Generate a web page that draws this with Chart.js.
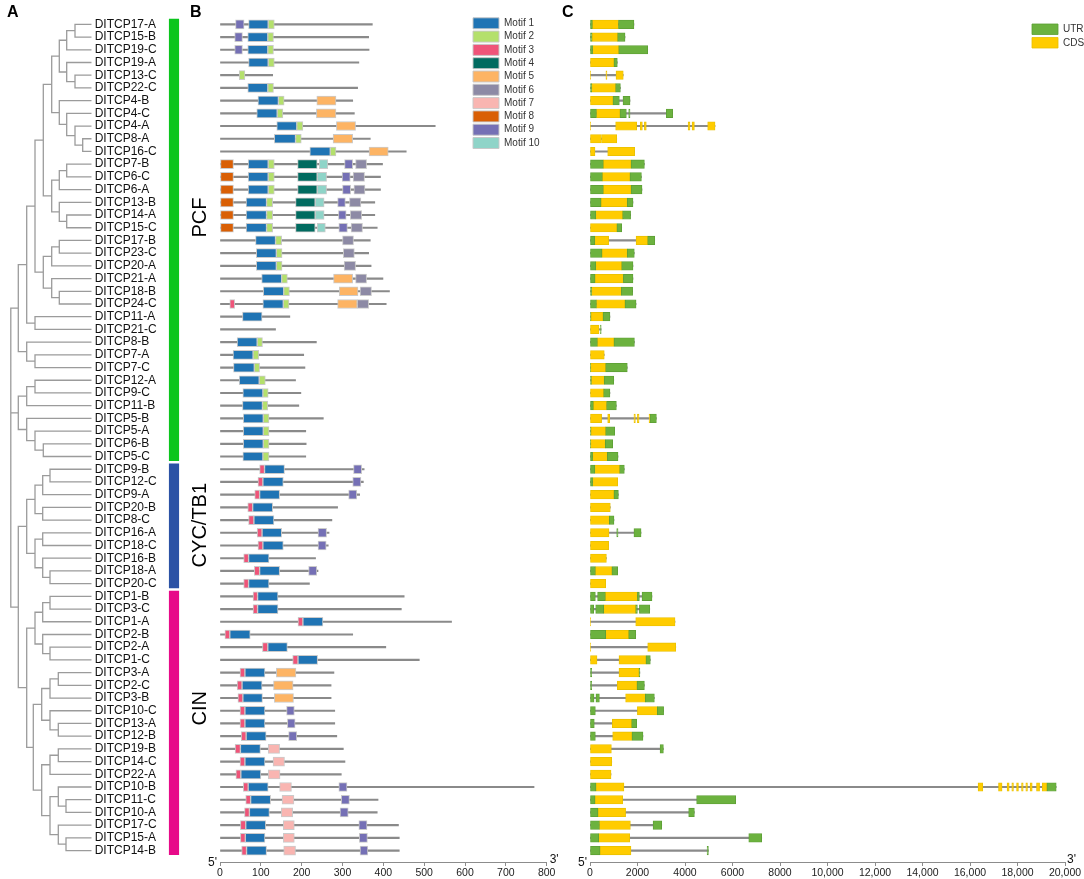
<!DOCTYPE html>
<html><head><meta charset="utf-8"><title>TCP genes</title>
<script src="https://cdn.jsdelivr.net/npm/chart.js@4.4.1/dist/chart.umd.min.js"></script>
<style>
html,body{margin:0;padding:0;background:#fff;}
body{width:1084px;height:879px;position:relative;overflow:hidden;}
canvas{position:absolute;top:0;}
.panel{position:absolute;font:bold 16px/16px "Liberation Sans",Arial,sans-serif;color:#000;}
</style></head>
<body>
<canvas id="cA" width="168" height="879" style="left:0"></canvas>
<canvas id="cG" width="52" height="879" style="left:161px"></canvas>
<canvas id="cB" width="360" height="879" style="left:200px"></canvas>
<canvas id="cC" width="514" height="879" style="left:570px"></canvas>
<div class="panel" style="left:7px;top:4px">A</div>
<div class="panel" style="left:190px;top:4px">B</div>
<div class="panel" style="left:562px;top:4px">C</div>
<script>
// ---------------- DATA ----------------
const genes = ['DITCP17-A','DITCP15-B','DITCP19-C','DITCP19-A','DITCP13-C','DITCP22-C','DITCP4-B','DITCP4-C','DITCP4-A','DITCP8-A','DITCP16-C',
'DITCP7-B','DITCP6-C','DITCP6-A','DITCP13-B','DITCP14-A','DITCP15-C','DITCP17-B','DITCP23-C','DITCP20-A','DITCP21-A','DITCP18-B','DITCP24-C',
'DITCP11-A','DITCP21-C','DITCP8-B','DITCP7-A','DITCP7-C','DITCP12-A','DITCP9-C','DITCP11-B','DITCP5-B','DITCP5-A','DITCP6-B','DITCP5-C',
'DITCP9-B','DITCP12-C','DITCP9-A','DITCP20-B','DITCP8-C','DITCP16-A','DITCP18-C','DITCP16-B','DITCP18-A','DITCP20-C',
'DITCP1-B','DITCP3-C','DITCP1-A','DITCP2-B','DITCP2-A','DITCP1-C','DITCP3-A','DITCP2-C','DITCP3-B','DITCP10-C','DITCP13-A','DITCP12-B',
'DITCP19-B','DITCP14-C','DITCP22-A','DITCP10-B','DITCP11-C','DITCP10-A','DITCP17-C','DITCP15-A','DITCP14-B'];

// protein length (aa)
const proteinLength = [373,364,365,340,129,337,325,329,527,368,456,
398,393,393,379,379,385,368,364,370,399,415,407,
171,136,236,205,208,185,198,193,253,210,211,210,
353,351,342,288,274,267,265,234,240,219,
451,444,567,325,406,488,279,272,272,281,281,286,302,306,297,769,387,385,437,439,439];

// motif hits per protein: [motif number, start aa, end aa]
const motifHits = [
[[9,38,59],[1,70,118],[2,118,133]],
[[9,36,55],[1,68,117],[2,117,131]],
[[9,36,55],[1,68,117],[2,117,131]],
[[1,70,118],[2,118,133]],
[[2,47,61]],
[[1,68,117],[2,117,131]],
[[1,93,143],[2,143,157],[5,237,284]],
[[1,90,140],[2,140,154],[5,236,284]],
[[1,139,188],[2,188,203],[5,285,332]],
[[1,133,185],[2,185,199],[5,277,325]],
[[1,220,270],[2,270,284],[5,365,412]],
[[8,0,33],[1,69,118],[2,118,133],[4,190,238],[10,243,264],[9,305,325],[6,332,359]],
[[8,0,33],[1,69,118],[2,118,133],[4,190,238],[10,238,261],[9,299,319],[6,326,354]],
[[8,0,33],[1,69,118],[2,118,133],[4,190,238],[10,238,261],[9,300,320],[6,328,355]],
[[8,0,33],[1,64,114],[2,114,129],[4,185,233],[10,233,255],[9,288,307],[6,317,345]],
[[8,0,33],[1,64,114],[2,114,129],[4,185,233],[10,233,255],[9,290,309],[6,319,347]],
[[8,0,33],[1,64,114],[2,114,129],[4,185,233],[10,238,258],[9,291,312],[6,321,349]],
[[1,87,136],[2,136,151],[6,300,327]],
[[1,89,138],[2,138,152],[6,302,329]],
[[1,89,138],[2,138,152],[6,304,332]],
[[1,102,151],[2,151,165],[5,278,325],[6,332,359]],
[[1,106,156],[2,156,170],[5,292,338],[6,343,371]],
[[3,24,36],[1,105,155],[2,155,169],[5,288,336],[6,336,364]],
[[1,55,103]],
[],
[[1,42,91],[2,91,104]],
[[1,32,81],[2,81,95]],
[[1,33,84],[2,84,97]],
[[1,47,96],[2,96,111]],
[[1,56,105],[2,105,118]],
[[1,55,104],[2,104,117]],
[[1,57,106],[2,106,120]],
[[1,57,106],[2,106,120]],
[[1,57,106],[2,106,120]],
[[1,56,105],[2,105,120]],
[[3,97,109],[1,109,158],[9,327,347]],
[[3,93,105],[1,105,155],[9,325,345]],
[[3,85,97],[1,97,146],[9,315,335]],
[[3,68,80],[1,80,129]],
[[3,70,83],[1,83,132]],
[[3,91,103],[1,103,151],[9,240,261]],
[[3,93,105],[1,105,155],[9,240,260]],
[[3,58,70],[1,70,120]],
[[3,84,97],[1,97,146],[9,217,237]],
[[3,58,70],[1,70,120]],
[[3,81,92],[1,92,142]],
[[3,81,92],[1,92,142]],
[[3,191,203],[1,203,252]],
[[3,12,24],[1,24,74]],
[[3,104,117],[1,117,165]],
[[3,178,191],[1,191,239]],
[[3,49,61],[1,61,110],[5,138,186]],
[[3,42,54],[1,54,103],[5,131,179]],
[[3,44,56],[1,56,104],[5,133,180]],
[[3,49,61],[1,61,110],[9,163,182]],
[[3,49,61],[1,61,110],[9,165,184]],
[[3,52,64],[1,64,113],[9,168,188]],
[[3,37,50],[1,50,99],[7,118,146]],
[[3,49,61],[1,61,110],[7,130,158]],
[[3,39,51],[1,51,100],[7,118,147]],
[[3,57,69],[1,69,118],[7,146,175],[9,291,311]],
[[3,63,75],[1,75,124],[7,152,181],[9,297,317]],
[[3,60,72],[1,72,121],[7,150,178],[9,294,314]],
[[3,50,63],[1,63,112],[7,155,182],[9,340,360]],
[[3,50,62],[1,62,110],[7,155,182],[9,341,361]],
[[3,53,65],[1,65,114],[7,156,185],[9,343,362]]
];
const motifNames = ['Motif 1','Motif 2','Motif 3','Motif 4','Motif 5','Motif 6','Motif 7','Motif 8','Motif 9','Motif 10'];

// gene structure segments: [U = UTR / C = CDS, start bp, end bp]
const geneSegments = [
[['U',0,100],['C',100,1200],['U',1200,1850]],
[['U',0,85],['C',85,1165],['U',1165,1475]],
[['U',0,110],['C',110,1210],['U',1210,2430]],
[['C',0,1010],['U',1010,1150]],
[['C',0,30],['C',670,715],['C',1095,1400]],
[['U',0,70],['C',70,1080],['U',1080,1280]],
[['C',0,970],['U',970,1235],['U',1390,1685]],
[['U',0,270],['C',270,1265],['U',1265,1530],['U',1630,1685],['U',3215,3480]],
[['C',0,30],['C',1080,1965],['C',2120,2205],['C',2290,2370],['C',4130,4210],['C',4295,4395],['C',4955,5265]],
[['C',0,480],['C',490,1125]],
[['C',0,210],['C',745,1880]],
[['U',0,560],['C',560,1730],['U',1730,2290]],
[['U',0,520],['C',520,1685],['U',1685,2165]],
[['U',0,560],['C',560,1730],['U',1730,2190]],
[['U',0,465],['C',465,1570],['U',1570,1810]],
[['U',0,240],['C',240,1375],['U',1375,1710]],
[['C',0,1135],['U',1135,1335]],
[['U',0,200],['C',200,785],['C',1940,2430],['U',2430,2725]],
[['U',0,505],['C',505,1570],['U',1570,1865]],
[['U',0,240],['C',240,1335],['U',1335,1810]],
[['U',0,210],['C',210,1405],['U',1405,1810]],
[['U',0,70],['C',70,1320],['U',1320,1795]],
[['U',0,270],['C',270,1475],['U',1475,1940]],
[['U',0,40],['C',40,550],['U',550,840]],
[['C',0,380],['U',440,470]],
[['U',0,310],['C',310,1010],['U',1010,1870]],
[['C',0,600]],
[['U',0,30],['C',30,660],['U',660,1570]],
[['U',0,60],['C',60,600],['U',600,1000]],
[['C',0,575],['U',575,840]],
[['U',0,140],['C',140,700],['U',700,1110]],
[['C',0,490],['C',745,830],['C',1850,1910],['C',1995,2065],['C',2485,2530],['U',2530,2795]],
[['U',0,40],['C',40,660],['U',660,1040]],
[['U',0,30],['C',30,645],['U',645,955]],
[['U',0,110],['C',110,730],['U',730,1180]],
[['U',0,200],['C',200,1250],['U',1250,1445]],
[['U',0,110],['C',110,1165]],
[['C',0,1010],['U',1010,1195]],
[['C',0,855]],
[['C',0,815],['U',815,1010]],
[['C',0,800],['U',1125,1180],['U',1850,2150]],
[['C',0,785]],
[['C',0,690]],
[['U',0,225],['C',225,925],['U',925,1165]],
[['C',0,660]],
[['U',0,225],['U',320,645],['C',645,1995],['U',1995,2080],['U',2190,2610]],
[['U',0,155],['U',240,575],['C',575,1925],['U',1925,1995],['U',2080,2515]],
[['C',0,30],['C',1925,3580]],
[['U',0,660],['C',660,1630],['U',1630,1925]],
[['C',0,30],['C',2430,3610]],
[['C',0,295],['C',1220,2360],['U',2360,2540]],
[['U',0,70],['C',1220,2065],['U',2065,2100]],
[['U',0,70],['C',1150,1980],['U',1980,2290]],
[['U',0,170],['U',250,395],['C',1500,2330],['U',2330,2710]],
[['U',0,225],['C',1995,2835],['U',2835,3100]],
[['U',0,180],['C',940,1755],['U',1755,1965]],
[['U',0,225],['C',955,1770],['U',1770,2230]],
[['C',0,900],['U',2950,3090]],
[['C',0,915]],
[['C',0,885]],
[['U',0,250],['C',250,1430],['C',16340,16540],['C',17200,17350],['C',17560,17650],['C',17760,17830],['C',17960,18040],['C',18170,18240],['C',18350,18420],['C',18530,18620],['C',18800,18930],['C',19040,19240],['U',19240,19630]],
[['U',0,210],['C',210,1375],['U',4490,6135]],
[['U',0,335],['C',335,1500],['U',4155,4395]],
[['U',0,395],['C',395,1700],['U',2655,3020]],
[['U',0,365],['C',365,1670],['U',6685,7230]],
[['U',0,420],['C',420,1725],['U',4930,4985]]
];
const featureNames = ['UTR','CDS'];

// subfamily groups (row ranges) and where their names sit (row units)
const groupNames = ['PCF','CYC/TB1','CIN'];
const groupFirst = [0,35,45];
const groupLast = [34,44,65];
const groupLabelRow = [15.2,39.4,53.8];

// tick labels
const bTickValues = [0,100,200,300,400,500,600,700,800];
const bTickLabels = ['0','100','200','300','400','500','600','700','800'];
const cTickValues = [0,2000,4000,6000,8000,10000,12000,14000,16000,18000,20000];
const cTickLabels = ['0','2000','4000','6000','8000','10,000','12,000','14,000','16,000','18,000','20,000'];

// dendrogram: [node height, child, child]; numbers are leaf rows
const cladeE = [59.3, [66.7, [75, 0, 1], 2], [66.7, 3, [75, 4, 5]]];
const cladeI = [59.3, 6, [66.7, 7, [75, 8, [82.7, 9, 10]]]];
const cladeO = [51.7, [59.3, [66.7, 11, 12], 13], [59.3, 14, [66.7, 15, 16]]];
const cladeU = [43.3, [51.7, [59.3, 17, 18], 19], [51.7, 20, [59.3, 21, 22]]];
const cladeV = [35, [43.3, [51.7, cladeE, cladeI], cladeO], cladeU];
const cladeA1 = [18.3, [26.7, cladeV, [35, 23, 24]], [26.7, 25, [35, 26, 27]]];
const cladeG1 = [18.3, [26.7, [35, 28, 29], 30], [26.7, 31, [35, 32, [43.3, 33, 34]]]];
const pcfClade = [10.8, cladeA1, cladeG1];
const cycClade = [26.7, [35, [42.7, [50, 35, 36], 37], [42.7, 38, 39]], [35, [42.7, 40, 41], [42.7, 42, [50, 43, 44]]]];
const cinClade = [26.7, [35, [42.7, [50, 45, 46], 47], [42.7, 48, [50, 49, 50]]],
  [33.3, [41.7, [50, [58.3, 51, 52], 53], [50, 54, [58.3, 55, 56]]],
         [41.7, [50, [58.3, 57, 58], 59], [50, [58.3, 60, [66, 61, 62]], [58.3, 63, [66, 64, 65]]]]]];
const treeRoot = [10.8, pcfClade, [18.3, cycClade, cinClade]];

// ---------------- STYLE ----------------
const FONT = '"Liberation Sans", Arial, Helvetica, sans-serif';
const motifColors = ['#1f74b4','#b4e06c','#ef5479','#016b60','#fdb464','#8d8aa5','#f9b5b1','#d95f05','#7570b5','#8fd4c8'];
const featureColors = ['#6cb23f','#ffcc00'];
const featureBorders = ['#5c9e34','#e8c000'];
const groupColors = ['#0bc51d','#2b52a5','#e70a89'];
const LEAF_X = 91.7;
const ROW_MIN = -0.5, ROW_MAX = 65.9;

Chart.defaults.font.family = FONT;
Chart.defaults.color = '#222';
Chart.defaults.animation = false;

// ---------------- helpers ----------------
const treeSegments = [];
function place(node) {
  if (typeof node === 'number') return {x: LEAF_X, y: node};
  const [h, a, b] = node;
  const pa = place(a), pb = place(b);
  treeSegments.push({x: pa.x, y: pa.y}, {x: h, y: pa.y}, {x: h, y: pb.y}, {x: pb.x, y: pb.y}, {x: null, y: null});
  return {x: h, y: (pa.y + pb.y) / 2};
}
place(treeRoot);

const rowScale = {type: 'linear', min: ROW_MIN, max: ROW_MAX, reverse: true, display: false, offset: false};

function endLabels(dl, dr) {
  return {
    id: 'endLabels',
    afterDraw(chart) {
      const {ctx, chartArea: a} = chart;
      ctx.save();
      ctx.font = '12px ' + FONT;
      ctx.fillStyle = '#111';
      ctx.textBaseline = 'alphabetic';
      ctx.textAlign = 'right';
      ctx.fillText("5'", a.left - dl, a.bottom + 4);
      ctx.textAlign = 'left';
      ctx.fillText("3'", a.right + dr, a.bottom + 1);
      ctx.restore();
    }
  };
}
function placeLegend(dx, dy) {
  return {
    id: 'placeLegend',
    afterLayout(chart) {
      const lg = chart.legend;
      if (!lg) return;
      const w = lg.width, h = lg.height;
      lg.left = chart.chartArea.left + dx;
      lg.top = chart.chartArea.top + dy;
      lg.right = lg.left + w;
      lg.bottom = lg.top + h;
    }
  };
}
function xAxis(maxV, values, labels) {
  return {
    type: 'linear', min: 0, max: maxV, position: 'bottom',
    afterFit: s => { s.height = 17; },
    afterBuildTicks: s => { s.ticks = values.map(v => ({value: v})); },
    ticks: {autoSkip: false, maxRotation: 0, padding: 1, color: '#222', font: {size: 10.5},
            callback: (v, i) => labels[i]},
    grid: {drawOnChartArea: false, drawTicks: true, tickLength: 4, color: '#8c8c8c'},
    border: {display: true, color: '#8c8c8c', width: 1}
  };
}

// ---------------- Panel A: dendrogram + gene names ----------------
new Chart(document.getElementById('cA'), {
  type: 'scatter',
  data: {datasets: [{data: treeSegments, showLine: true, spanGaps: false, borderColor: '#9b9b9b', borderWidth: 1.3, pointRadius: 0, pointHoverRadius: 0, fill: false}]},
  options: {
    responsive: false, animation: false, events: [],
    layout: {padding: {left: 0, right: 0, top: 18, bottom: 17}},
    plugins: {legend: {display: false}, tooltip: {enabled: false}},
    scales: {
      x: {type: 'linear', min: 0, max: LEAF_X, display: false},
      y: {type: 'linear', position: 'right', min: ROW_MIN, max: ROW_MAX, reverse: true,
          afterBuildTicks: s => { s.ticks = genes.map((g, i) => ({value: i})); },
          afterFit: s => { s.width = 168 - LEAF_X; },
          ticks: {autoSkip: false, padding: 3, color: '#111', font: {size: 12}, callback: (v, i) => genes[i]},
          grid: {display: false, drawTicks: false}, border: {display: false}}
    }
  }
});

// ---------------- subfamily bars ----------------
new Chart(document.getElementById('cG'), {
  type: 'bar',
  data: {labels: ['bar', 'label'], datasets: [{
    data: groupNames.map((n, i) => ({x: 'bar', y: [groupFirst[i] - 0.42, groupLast[i] + 0.33]})),
    backgroundColor: groupColors, borderWidth: 0, barThickness: 9.5, grouped: false}]},
  options: {
    responsive: false, animation: false, events: [],
    layout: {padding: {left: 0, right: 0, top: 18, bottom: 17}},
    plugins: {legend: {display: false}, tooltip: {enabled: false}},
    scales: {x: {type: 'category', display: false}, y: rowScale}
  },
  plugins: [{
    id: 'groupNames',
    afterDatasetsDraw(chart) {
      const {ctx, scales: {x, y}} = chart;
      ctx.save();
      ctx.font = '20px ' + FONT;
      ctx.fillStyle = '#000';
      ctx.textAlign = 'center';
      ctx.textBaseline = 'middle';
      groupNames.forEach((name, i) => {
        ctx.save();
        ctx.translate(x.getPixelForValue(1), y.getPixelForValue(groupLabelRow[i]));
        ctx.rotate(-Math.PI / 2);
        ctx.fillText(name, 0, 0);
        ctx.restore();
      });
      ctx.restore();
    }
  }]
});

// ---------------- Panel B: motifs ----------------
const motifDatasets = motifNames.map((name, m) => ({
  label: name,
  data: motifHits.flatMap((hits, row) => hits.filter(h => h[0] === m + 1).map(h => ({x: [h[1], h[2]], y: row}))),
  backgroundColor: motifColors[m],
  borderColor: 'rgba(200,200,200,0.95)',
  borderWidth: 1,
  barThickness: 9,
  order: 0
}));
const proteinLine = {
  label: 'protein',
  data: proteinLength.map((len, row) => ({x: [0, len], y: row})),
  backgroundColor: '#8a8a8a', borderWidth: 0, barThickness: 1.5, order: 1
};
new Chart(document.getElementById('cB'), {
  type: 'bar',
  data: {datasets: [...motifDatasets, proteinLine]},
  options: {
    indexAxis: 'y', responsive: false, animation: false, events: [],
    layout: {padding: {left: 20, right: 13.3, top: 18, bottom: 0}},
    datasets: {bar: {grouped: false, borderSkipped: false}},
    plugins: {
      tooltip: {enabled: false},
      legend: {position: 'chartArea', align: 'start',
        labels: {boxWidth: 26, boxHeight: 11, padding: 2.3, color: '#333', font: {size: 10},
                 filter: item => item.datasetIndex < motifNames.length}}
    },
    scales: {x: xAxis(800, bTickValues, bTickLabels), y: rowScale}
  },
  plugins: [endLabels(3, 3), placeLegend(250.7, -2.5)]
});

// ---------------- Panel C: gene structure ----------------
const featureDatasets = featureNames.map((name, f) => ({
  label: name,
  data: geneSegments.flatMap((segs, row) => segs.filter(s => s[0] === name[0]).map(s => ({x: [s[1], s[2]], y: row}))),
  backgroundColor: featureColors[f],
  borderColor: featureBorders[f],
  borderWidth: 0.8,
  barThickness: 8.5,
  order: 0
}));
const intronLine = {
  label: 'intron',
  data: geneSegments.map((segs, row) => ({x: [0, Math.max(...segs.map(s => s[2]))], y: row})),
  backgroundColor: '#8a8a8a', borderWidth: 0, barThickness: 1.5, order: 1
};
new Chart(document.getElementById('cC'), {
  type: 'bar',
  data: {datasets: [...featureDatasets, intronLine]},
  options: {
    indexAxis: 'y', responsive: false, animation: false, events: [],
    layout: {padding: {left: 20, right: 19, top: 18, bottom: 0}},
    datasets: {bar: {grouped: false, borderSkipped: false}},
    plugins: {
      tooltip: {enabled: false},
      legend: {position: 'chartArea', align: 'start',
        labels: {boxWidth: 26, boxHeight: 10.5, padding: 3, color: '#333', font: {size: 10},
                 filter: item => item.datasetIndex < featureNames.length}}
    },
    scales: {x: xAxis(20000, cTickValues, cTickLabels), y: rowScale}
  },
  plugins: [endLabels(3, 2), placeLegend(439, 3)]
});
</script>
</body></html>
